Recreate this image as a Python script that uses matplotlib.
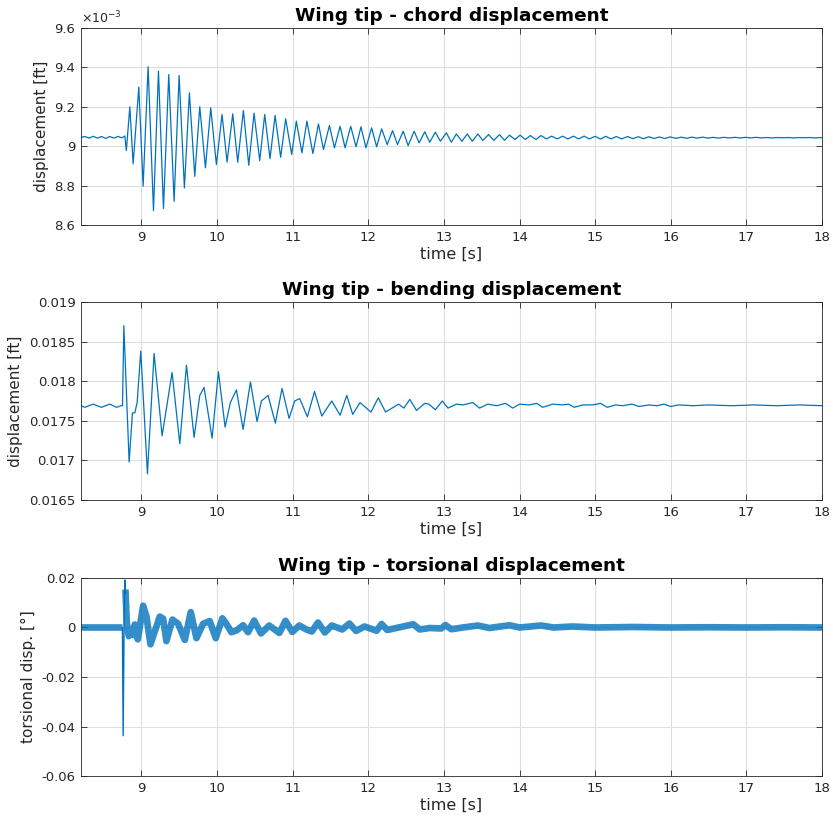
import matplotlib
matplotlib.use("Agg")
import matplotlib.pyplot as plt
from matplotlib.ticker import FormatStrFormatter, FuncFormatter

# ---------- data (extrema of each trace) ----------

# chord displacement, values in units of 1e-3 ft
chord_t = [
    8.20, 8.25, 8.31, 8.36, 8.42, 8.47, 8.53, 8.58, 8.64, 8.69, 8.74, 8.78,
    8.80, 8.846, 8.89, 8.965, 9.022, 9.088, 9.159, 9.225, 9.291, 9.361,
    9.432, 9.498, 9.568, 9.634, 9.705, 9.771, 9.846, 9.916, 9.991, 10.066,
    10.132, 10.207, 10.273, 10.348, 10.419, 10.489, 10.564, 10.630, 10.700,
    10.767, 10.841, 10.907, 10.987, 11.048, 11.122, 11.188, 11.267, 11.341,
    11.407, 11.486, 11.552, 11.627, 11.693, 11.767, 11.838, 11.903, 11.969,
    12.044, 12.110, 12.176, 12.250, 12.321, 12.386, 12.461, 12.527, 12.606,
    12.672, 12.747, 12.812, 12.887, 12.953, 13.032, 13.098, 13.164, 13.238,
    13.309, 13.375, 13.449, 13.515, 13.590, 13.660, 13.735, 13.801, 13.867,
    13.941, 14.007, 14.077, 14.143, 14.218, 14.284, 14.358, 14.424, 14.499,
    14.569, 14.639, 14.714, 14.780, 14.855, 14.921, 15.00, 15.07, 15.14,
    15.21, 15.28, 15.35, 15.43, 15.50, 15.57, 15.64, 15.71, 15.78, 15.85,
    15.92, 15.99, 16.07, 16.14, 16.21, 16.28, 16.35, 16.42, 16.49, 16.56,
    16.63, 16.70, 16.77, 16.85, 16.92, 16.99, 17.06, 17.13, 17.20, 17.27,
    17.34, 17.41, 17.49, 17.56, 17.63, 17.70, 17.77, 17.84, 17.91, 17.98,
    18.00,
]
chord_v = [
    9.045, 9.049, 9.041, 9.050, 9.041, 9.049, 9.040, 9.049, 9.041, 9.050,
    9.042, 9.052, 8.978, 9.200, 8.910, 9.300, 8.797, 9.403, 8.673, 9.381,
    8.683, 9.364, 8.720, 9.359, 8.788, 9.271, 8.847, 9.200, 8.890, 9.195,
    8.907, 9.161, 8.919, 9.164, 8.919, 9.181, 8.903, 9.168, 8.927, 9.161,
    8.936, 9.156, 8.944, 9.139, 8.958, 9.127, 8.966, 9.127, 8.963, 9.113,
    8.983, 9.105, 8.992, 9.101, 8.992, 9.101, 8.997, 9.098, 8.992, 9.093,
    8.997, 9.088, 9.008, 9.079, 9.008, 9.076, 9.003, 9.076, 9.017, 9.073,
    9.020, 9.071, 9.025, 9.068, 9.020, 9.062, 9.025, 9.062, 9.025, 9.062,
    9.029, 9.059, 9.030, 9.059, 9.030, 9.056, 9.034, 9.056, 9.034, 9.054,
    9.034, 9.054, 9.037, 9.051, 9.037, 9.051, 9.037, 9.051, 9.037, 9.051,
    9.037, 9.050, 9.036, 9.050, 9.037, 9.049, 9.037, 9.049, 9.038, 9.048,
    9.038, 9.048, 9.039, 9.047, 9.039, 9.047, 9.040, 9.046, 9.040, 9.046,
    9.041, 9.046, 9.041, 9.045, 9.041, 9.045, 9.042, 9.045, 9.042, 9.045,
    9.042, 9.045, 9.042, 9.044, 9.042, 9.044, 9.043, 9.044, 9.042, 9.044,
    9.043, 9.044, 9.042, 9.044, 9.043,
]

# bending displacement [ft]
bend_t = [
    8.20, 8.251, 8.361, 8.471, 8.581, 8.670, 8.736, 8.749, 8.767, 8.837,
    8.881, 8.912, 8.943, 8.991, 9.079, 9.167, 9.273, 9.405, 9.507, 9.595,
    9.696, 9.771, 9.828, 9.934, 10.018, 10.106, 10.176, 10.256, 10.344,
    10.441, 10.529, 10.586, 10.674, 10.771, 10.859, 10.952, 11.026, 11.093,
    11.194, 11.289, 11.385, 11.517, 11.627, 11.715, 11.794, 11.890, 12.035,
    12.132, 12.228, 12.40, 12.47, 12.549, 12.637, 12.747, 12.80, 12.887,
    12.979, 13.054, 13.164, 13.25, 13.383, 13.471, 13.58, 13.70, 13.814,
    13.910, 14.00, 14.13, 14.227, 14.306, 14.44, 14.57, 14.648, 14.723,
    14.84, 14.97, 15.07, 15.16, 15.27, 15.36, 15.49, 15.58, 15.71, 15.82,
    15.91, 16.00, 16.10, 16.30, 16.50, 16.80, 17.10, 17.40, 17.70, 18.00,
]
bend_v = [
    0.01769, 0.01767, 0.01771, 0.01767, 0.01771, 0.01767, 0.01769, 0.01769,
    0.01870, 0.01698, 0.01760, 0.01760, 0.01773, 0.01838, 0.01683, 0.01835,
    0.01731, 0.01811, 0.01721, 0.01820, 0.01729, 0.01782, 0.01792, 0.01728,
    0.01812, 0.01742, 0.01773, 0.01789, 0.01739, 0.01799, 0.01749, 0.01775,
    0.01782, 0.01747, 0.01791, 0.01753, 0.01775, 0.01778, 0.01755, 0.01787,
    0.01756, 0.01775, 0.01757, 0.01782, 0.01758, 0.01773, 0.01761, 0.01779,
    0.01761, 0.01771, 0.01766, 0.01777, 0.01763, 0.01772, 0.01771, 0.01764,
    0.01775, 0.01766, 0.01771, 0.01770, 0.01773, 0.01766, 0.01771, 0.01769,
    0.01772, 0.01766, 0.01771, 0.01770, 0.01772, 0.01767, 0.01771, 0.01770,
    0.01771, 0.01767, 0.01770, 0.01770, 0.01772, 0.01767, 0.01770, 0.01769,
    0.01771, 0.01768, 0.01770, 0.01769, 0.01771, 0.01768, 0.01770, 0.01769,
    0.01770, 0.01769, 0.01770, 0.01769, 0.01770, 0.01769,
]

# torsional displacement [deg]: slow part of the (dense, rippling) band
tors_pre_t = [8.20, 8.40, 8.60, 8.748]
tors_pre_v = [0.0, 0.0, 0.0, 0.0]
tors_spike_t = [8.748, 8.758, 8.770, 8.780, 8.790]
tors_spike_v = [0.0, -0.0437, 0.0, 0.0192, 0.0140]
tors_post_t = [
    8.790, 8.806, 8.833, 8.863, 8.885, 8.912, 8.952, 9.022, 9.066, 9.119,
    9.242, 9.286, 9.330, 9.410, 9.485, 9.573, 9.652, 9.727, 9.815, 9.903,
    9.982, 10.070, 10.123, 10.189, 10.256, 10.344, 10.410, 10.490, 10.581,
    10.690, 10.823, 10.905, 10.995, 11.088, 11.180, 11.253, 11.335, 11.425,
    11.517, 11.655, 11.750, 11.838, 11.950, 12.110, 12.176, 12.250, 12.400,
    12.595, 12.680, 12.812, 12.965, 13.019, 13.098, 13.250, 13.449, 13.600,
    13.867, 14.000, 14.284, 14.450, 14.700, 15.000, 15.500, 16.000, 16.500,
    17.000, 17.500, 18.000,
]
tors_post_v = [
    0.0140, 0.0020, -0.0035, -0.0010, -0.0030, 0.0012, -0.0048, 0.0088,
    0.0045, -0.0068, 0.0044, 0.0036, -0.0055, 0.0032, 0.0015, -0.0050,
    0.0062, -0.0043, 0.0015, 0.0026, -0.0043, 0.0037, 0.0015, -0.0019,
    -0.0012, 0.0009, -0.0019, 0.0028, -0.0024, 0.0008, -0.0022, 0.0027,
    -0.0018, 0.0008, -0.0008, -0.0016, 0.0020, -0.0020, 0.0008, -0.0008,
    0.0016, -0.0014, 0.0004, -0.0013, 0.0014, -0.0010, 0.0000, 0.0013,
    -0.0008, -0.0002, -0.0004, 0.0010, -0.0007, 0.0000, 0.0008, -0.0002,
    0.0009, 0.0000, 0.0008, 0.0000, 0.0004, 0.0000, 0.0002, 0.0000,
    0.0001, 0.0000, 0.0001, 0.0000,
]

x_ticks = [9, 10, 11, 12, 13, 14, 15, 16, 17, 18]
chord_ticks = [8.6, 8.8, 9.0, 9.2, 9.4, 9.6]
bend_ticks = [0.0165, 0.017, 0.0175, 0.018, 0.0185, 0.019]
tors_ticks = [-0.06, -0.04, -0.02, 0, 0.02]

LINE = "#0072BD"
TXT = "#262626"

plt.rcParams["font.family"] = "DejaVu Sans"
plt.rcParams["mathtext.default"] = "regular"


def style_axes(ax, title, ylabel, yticks):
    ax.set_xlim(8.2, 18)
    ax.set_ylim(yticks[0], yticks[-1])
    ax.set_xticks(x_ticks)
    ax.set_yticks(yticks)
    ax.xaxis.set_major_formatter(FormatStrFormatter("%g"))
    ax.yaxis.set_major_formatter(FuncFormatter(lambda v, p: "%g" % round(v, 6)))
    ax.grid(True, color="#dedede", linewidth=0.8)
    ax.set_axisbelow(True)
    ax.tick_params(direction="in", top=True, right=True, length=4,
                   width=0.6, colors=TXT, labelsize=9.5, pad=4)
    for s in ax.spines.values():
        s.set_color(TXT)
        s.set_linewidth(0.6)
    ax.set_title(title, fontsize=13.3, fontweight="bold", color="black", pad=5)
    ax.set_xlabel("time [s]", fontsize=11.5, color=TXT, labelpad=2)
    ax.set_ylabel(ylabel, fontsize=11, color=TXT, labelpad=4)


fig = plt.figure(figsize=(8.33, 8.23), dpi=100)
ax1 = fig.add_axes([0.0972, 0.7266, 0.8896, 0.2394])
ax2 = fig.add_axes([0.0972, 0.3925, 0.8896, 0.2406])
ax3 = fig.add_axes([0.0972, 0.0571, 0.8896, 0.2406])

# chord
ax1.plot(chord_t, chord_v, color=LINE, linewidth=0.9)
style_axes(ax1, "Wing tip - chord displacement", "displacement [ft]", chord_ticks)
ax1.text(0.0, 1.008, r"$\times10^{-3}$", transform=ax1.transAxes,
         ha="left", va="bottom", fontsize=9, color=TXT)

# bending
ax2.plot(bend_t, bend_v, color=LINE, linewidth=0.9)
style_axes(ax2, "Wing tip - bending displacement", "displacement [ft]", bend_ticks)

# torsion: rippling band drawn as a wide line, impulse drawn thin
ax3.plot(tors_pre_t, tors_pre_v, color=LINE, linewidth=4.8, alpha=0.8,
         solid_capstyle="butt")
ax3.plot(tors_post_t, tors_post_v, color=LINE, linewidth=4.8, alpha=0.8,
         solid_joinstyle="round")
ax3.plot(tors_spike_t, tors_spike_v, color=LINE, linewidth=1.0)
style_axes(ax3, "Wing tip - torsional displacement", "torsional disp. [°]", tors_ticks)

fig.savefig("out.png", dpi=100)
